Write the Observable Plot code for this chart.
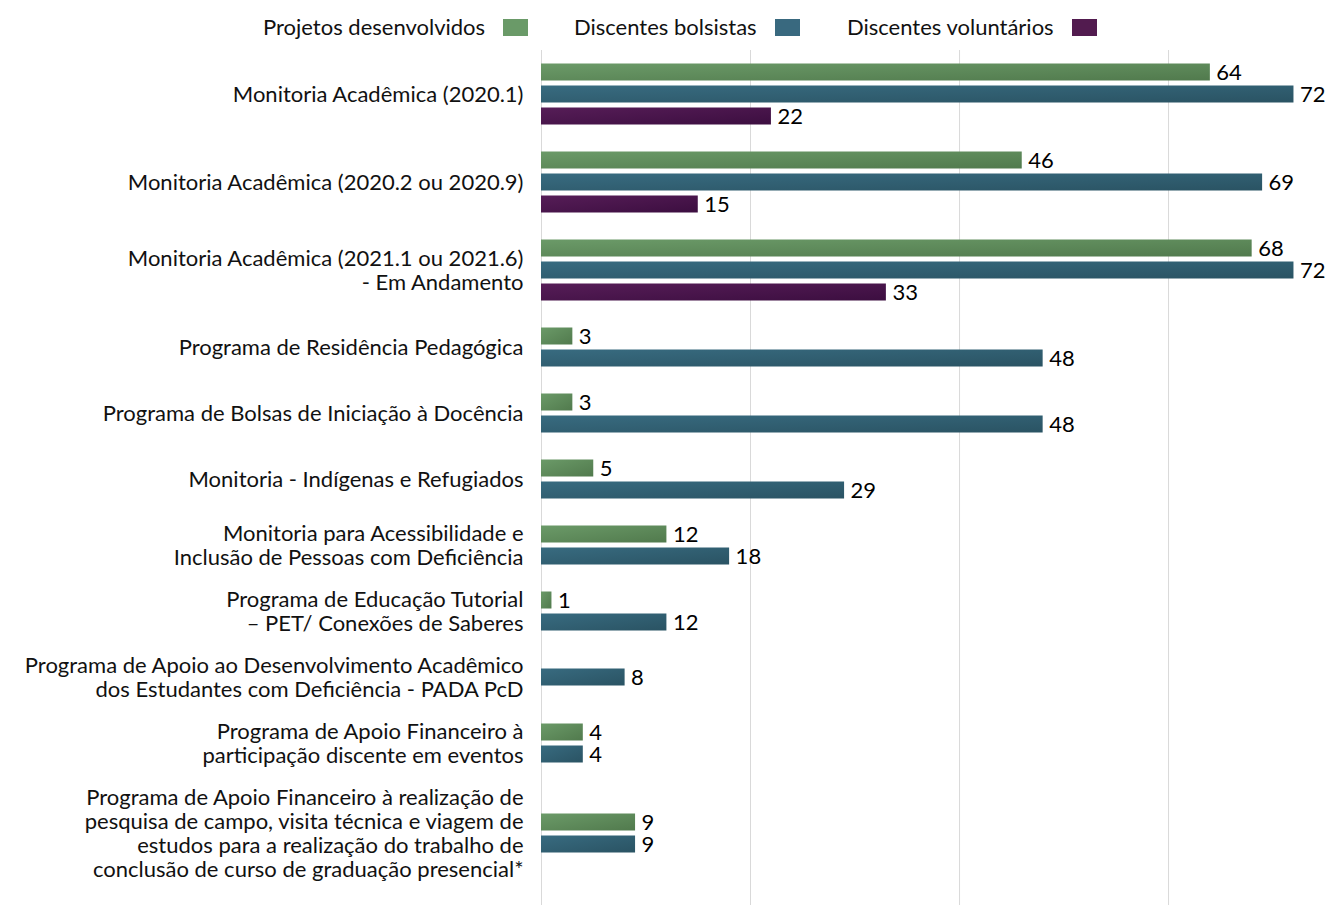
<!DOCTYPE html>
<html><head><meta charset="utf-8">
<script src="https://cdn.jsdelivr.net/npm/d3@7"></script>
<script src="https://cdn.jsdelivr.net/npm/@observablehq/plot@0.6"></script>
<style>
body{margin:0;background:#fff;font-family:Lato,sans-serif;}
#legend{position:relative;height:50px;width:1329px;font-size:22px;color:#111;}
.item{position:absolute;top:15px;display:flex;align-items:center;line-height:24px;}
.sw{display:inline-block;width:25px;height:17px;margin-left:18px;}
#chart svg{display:block;}
</style></head><body>
<div id="legend"></div>
<div id="chart"></div>
<script>
const categories = [
  "Monitoria Acadêmica (2020.1)",
  "Monitoria Acadêmica (2020.2 ou 2020.9)",
  "Monitoria Acadêmica (2021.1 ou 2021.6)\n- Em Andamento",
  "Programa de Residência Pedagógica",
  "Programa de Bolsas de Iniciação à Docência",
  "Monitoria - Indígenas e Refugiados",
  "Monitoria para Acessibilidade e\nInclusão de Pessoas com Deficiência",
  "Programa de Educação Tutorial\n– PET/ Conexões de Saberes",
  "Programa de Apoio ao Desenvolvimento Acadêmico\ndos Estudantes com Deficiência - PADA PcD",
  "Programa de Apoio Financeiro à\nparticipação discente em eventos",
  "Programa de Apoio Financeiro à realização de\npesquisa de campo, visita técnica e viagem de\nestudos para a realização do trabalho de\nconclusão de curso de graduação presencial*"
];
const seriesNames = ["Projetos desenvolvidos", "Discentes bolsistas", "Discentes voluntários"];
const projetos    = [64, 46, 68, 3, 3, 5, 12, 1, null, 4, 9];
const bolsistas   = [72, 69, 72, 48, 48, 29, 18, 12, 8, 4, 9];
const voluntarios = [22, 15, 33, null, null, null, null, null, null, null, null];
const xTicks = [0, 20, 40, 60];

const seriesColors = [["#6b9a68", "#517a4d"], ["#386b80", "#2a5363"], ["#561d57", "#3c0e40"]];
const legendColors = ["#6a9a68", "#39697f", "#521b4f"];

// legend
const legendX = [263, 574, 847];
const legend = d3.select("#legend");
seriesNames.forEach((n, i) => {
  const it = legend.append("div").attr("class", "item").style("left", legendX[i] + "px");
  it.append("span").text(n);
  it.append("span").attr("class", "sw").style("background", legendColors[i]);
});

// layout (derived from data: bars present and label lines)
const seriesValues = [projetos, bolsistas, voluntarios];
const SLOT = 22, LINE = 24, PAD = 18, BAR = 17;
let acc = 0;
const rows = [], bars = [];
categories.forEach((c, i) => {
  const vals = seriesValues.map((s, k) => ({k, v: s[i]})).filter(d => d.v != null);
  const lines = c.split("\n").length;
  const h = Math.max(SLOT * (vals.length + 1), LINE * lines + PAD);
  const center = acc + h / 2;
  rows.push({label: c, y: center});
  vals.forEach((d, j) => bars.push({series: d.k, v: d.v, y: center + (j - (vals.length - 1) / 2) * SLOT}));
  acc += h;
});
const total = acc;

const svg = Plot.plot({
  width: 1329,
  height: total + 15,
  marginLeft: 541,
  marginRight: 0,
  marginTop: 0,
  marginBottom: 0,
  style: {fontFamily: "Lato, sans-serif", fontSize: "22px", background: "#fff"},
  x: {domain: [0, 75.4], axis: null},
  y: {domain: [0, total], range: [0, total], axis: null},
  marks: [
    Plot.ruleX(xTicks, {stroke: "#d9d9d9", strokeWidth: 1}),
    ...[0, 1, 2].map(k => Plot.rectX(bars.filter(d => d.series === k), {
      x1: 0, x2: "v", y1: d => d.y - BAR / 2, y2: d => d.y + BAR / 2, fill: `url(#grad${k})`
    })),
    Plot.text(bars, {x: "v", y: "y", text: d => String(d.v), dx: 6, textAnchor: "start", fontSize: 22, fill: "#000"}),
    Plot.text(rows, {x: 0, y: "y", text: "label", dx: -18, textAnchor: "end", lineHeight: 24 / 22, fontSize: 22, fill: "#111"})
  ]
});

const defs = d3.select(svg).insert("defs", ":first-child");
seriesColors.forEach((c, k) => {
  const g = defs.append("linearGradient").attr("id", `grad${k}`)
    .attr("x1", 0).attr("y1", 0).attr("x2", 1).attr("y2", 1);
  g.append("stop").attr("offset", "0%").attr("stop-color", c[0]);
  g.append("stop").attr("offset", "100%").attr("stop-color", c[1]);
});
document.getElementById("chart").appendChild(svg);
</script>
</body></html>
